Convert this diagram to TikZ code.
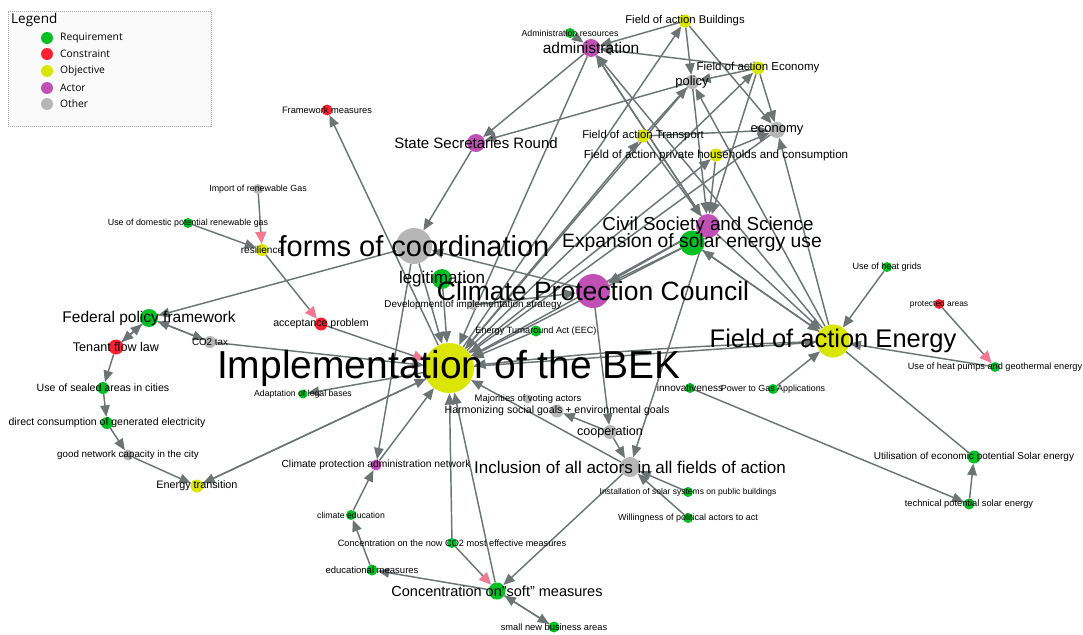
\documentclass[tikz,border=0pt]{standalone}
\usepackage{fontspec}
\setmainfont{Liberation Sans}
\newfontfamily\legendfont{Open Sans}
\usetikzlibrary{arrows.meta}
\definecolor{reqc}{RGB}{0,192,36}
\definecolor{conc}{RGB}{255,32,48}
\definecolor{objc}{RGB}{218,230,0}
\definecolor{actc}{RGB}{192,80,182}
\definecolor{othc}{RGB}{182,182,182}
\definecolor{edgec}{RGB}{108,116,116}
\definecolor{negc}{RGB}{244,120,148}
\definecolor{legborder}{RGB}{165,165,165}
\pgfdeclarelayer{bg}
\pgfdeclarelayer{edges}
\pgfsetlayers{bg,edges,main}
\newcommand\lblsize[1]{\fontsize{#1}{#1}\selectfont}
\tikzset{
  dot/.style={circle, inner sep=0pt, draw=none, minimum size=#1pt},
  req/.style={dot=#1, fill=reqc},
  con/.style={dot=#1, fill=conc},
  obj/.style={dot=#1, fill=objc},
  act/.style={dot=#1, fill=actc},
  oth/.style={dot=#1, fill=othc},
  lab/.style={inner sep=0pt, text=black, font={\lblsize{#1}}},
  link/.style={draw=edgec, line width=1.45pt, -{Triangle[length=11.5pt,width=9.5pt]}},
  neglink/.style={draw=edgec, line width=1.45pt, -{Triangle[length=12pt,width=11pt,color=negc]}},
  plainlink/.style={draw=edgec, line width=1.45pt},
  legbox/.style={draw=legborder, line width=0.6pt, dash pattern=on 1pt off 1pt, fill=white!98!black, inner sep=0pt},
  legtext/.style={inner sep=0pt, anchor=west, font={\legendfont\lblsize{#1}}},
}
\begin{document}
\begin{tikzpicture}[x=1pt,y=-1pt]
\useasboundingbox (0,0) rectangle (1083,634);
\begin{pgfonlayer}{bg}
  \fill[white] (0,0) rectangle (1083,634);
\end{pgfonlayer}

% ---------- legend ----------
\node[legbox, minimum width=203pt, minimum height=115pt, anchor=north west] (legend) at (8,11) {};
\node[legtext=13.5] (legtitle) at (11,20) {Legend};
\node[req=12] (lg1) at (47,38) {};  \node[legtext=10.3] (lgt1) at (60,38) {Requirement};
\node[con=12] (lg2) at (47,54) {};  \node[legtext=10.3] (lgt2) at (60,54) {Constraint};
\node[obj=12] (lg3) at (47,71) {};  \node[legtext=10.3] (lgt3) at (60,71) {Objective};
\node[act=12] (lg4) at (47,88) {};  \node[legtext=10.3] (lgt4) at (60,88) {Actor};
\node[oth=12] (lg5) at (47,104) {}; \node[legtext=10.3] (lgt5) at (60,104) {Other};

% ---------- nodes ----------
\node[obj=50] (impl) at (449,368) {};
\node[oth=36] (forms) at (414,246) {};
\node[act=34] (cpc) at (593,291) {};
\node[obj=33] (foaE) at (833,341) {};
\node[act=24] (civil) at (708,226) {};
\node[req=25] (expa) at (692,243) {};
\node[req=20] (legit) at (442,279) {};
\node[req=18] (fed) at (149,318) {};
\node[con=15] (tenant) at (116,347) {};
\node[oth=20] (incl) at (630,467) {};
\node[act=18] (admin) at (591,48) {};
\node[act=18] (ssr) at (476,143) {};
\node[req=17] (soft) at (497,591) {};
\node[oth=14] (coop) at (610,432) {};
\node[obj=13] (build) at (685,21) {};
\node[obj=13] (foaEc) at (758,68) {};
\node[oth=14] (policy) at (692,82) {};
\node[oth=16] (econ) at (777,130) {};
\node[obj=13] (trans) at (643,136) {};
\node[obj=13] (house) at (716,155) {};
\node[oth=12] (co2tax) at (210,342) {};
\node[obj=13] (etrans) at (197,486) {};
\node[oth=11] (netcap) at (128,455) {};
\node[req=12] (direct) at (107,423) {};
\node[req=12] (sealed) at (103,388) {};
\node[oth=10] (import) at (258,189) {};
\node[req=10] (domestic) at (188,223) {};
\node[obj=12] (resil) at (262,250) {};
\node[con=13] (accept) at (321,324) {};
\node[con=11] (frame) at (327,110) {};
\node[req=9] (adapt) at (303,394) {};
\node[act=11] (cpnet) at (376,465) {};
\node[req=10] (cedu) at (351,515) {};
\node[req=10] (co2now) at (452,543) {};
\node[req=11] (edu) at (372,570) {};
\node[req=11] (smallbiz) at (554,627) {};
\node[req=11] (eeg) at (536,331) {};
\node[oth=10] (devstrat) at (473,305) {};
\node[oth=9] (major) at (528,399) {};
\node[oth=13] (harmon) at (557,411) {};
\node[req=10] (install) at (688,492) {};
\node[req=10] (willing) at (688,518) {};
\node[req=10] (innov) at (690,388) {};
\node[req=10] (ptg) at (773,389) {};
\node[req=10] (heatgrid) at (887,267) {};
\node[con=10] (protect) at (939,304) {};
\node[req=10] (heatpump) at (995,367) {};
\node[req=13] (util) at (974,457) {};
\node[req=11] (technical) at (969,504) {};
\node[req=10] (adminres) at (570,33) {};

% ---------- connectors ----------
\begin{pgfonlayer}{edges}
  % left side
  \draw[neglink] (import) -- (resil);
  \draw[link] (domestic) -- (resil);
  \draw[neglink] (resil) -- (accept);
  \draw[neglink] (accept) -- (impl);
  \draw[link] (forms) -- (fed);
  \draw[link] (fed) -- (tenant);
  \draw[link] (tenant) -- (fed);
  \draw[link] (fed) -- (co2tax);
  \draw[link] (co2tax) -- (fed);
  \draw[link] (co2tax) -- (impl);
  \draw[link] (tenant) -- (sealed);
  \draw[link] (sealed) -- (direct);
  \draw[link] (direct) -- (netcap);
  \draw[link] (netcap) -- (etrans);
  \draw[link] (impl) -- (etrans);
  \draw[link] (etrans) -- (impl);
  \draw[link] (impl) -- (adapt);
  \draw[link] (impl) -- (frame);
  % lower part
  \draw[link] (cpnet) -- (impl);
  \draw[link] (forms) -- (cpnet);
  \draw[link] (cedu) -- (cpnet);
  \draw[link] (edu) -- (cedu);
  \draw[link] (soft) -- (edu);
  \draw[neglink] (co2now) -- (soft);
  \draw[link] (co2now) -- (impl);
  \draw[link] (soft) -- (impl);
  \draw[link] (incl) -- (soft);
  \draw[link] (soft) -- (smallbiz);
  \draw[link] (smallbiz) -- (soft);
  \draw[link] (install) -- (incl);
  \draw[link] (willing) -- (incl);
  \draw[link] (coop) -- (incl);
  \draw[link] (civil) -- (incl);
  \draw[link] (cpc) -- (coop);
  \draw[link] (coop) -- (harmon);
  \draw[link] (incl) -- (impl);
  % centre
  \draw[link] (devstrat) -- (cpc);
  \draw[link] (eeg) -- (impl);
  \draw[link] (impl) -- (foaE);
  \draw[link] (foaE) to[bend right=2] (impl);
  \draw[link] (forms) -- (impl);
  \draw[link] (legit) -- (impl);
  \draw[link] (ssr) -- (forms);
  \draw[link] (admin) -- (ssr);
  \draw[link] (policy) -- (ssr);
  \draw[link] (admin) -- (impl);
  \draw[link] (cpc) -- (forms);
  \draw[link] (civil) -- (cpc);
  \draw[link] (expa) -- (cpc);
  % right side
  \draw[link] (ptg) -- (foaE);
  \draw[link] (innov) -- (technical);
  \draw[link] (technical) -- (util);
  \draw[plainlink] (util) -- (foaE);
  \draw[link] (heatgrid) -- (foaE);
  \draw[neglink] (protect) -- (heatpump);
  \draw[link] (heatpump) -- (foaE);
  % upper cluster
  \draw[link] (adminres) -- (admin);
  \draw[link] (build) -- (admin);
  \draw[link] (foaEc) -- (admin);
  \draw[link] (build) -- (policy);
  \draw[link] (build) -- (econ);
  \draw[link] (foaEc) -- (policy);
  \draw[link] (foaEc) -- (econ);
  \draw[link] (trans) -- (policy);
  \draw[link] (trans) -- (econ);
  \draw[link] (house) -- (econ);
  \draw[link] (impl) -- (build);
  \draw[link] (impl) -- (foaEc);
  \draw[link] (impl) -- (trans);
  \draw[link] (impl) -- (house);
  \draw[link] (policy) -- (civil);
  \draw[link] (foaEc) -- (civil);
  \draw[link] (house) -- (civil);
  \draw[link] (admin) -- (civil);
  \draw[link] (trans) -- (civil);
  \draw[link] (civil) -- (admin);
  \draw[link] (foaE) -- (admin);
  \draw[link] (foaE) -- (policy);
  \draw[link] (foaE) -- (econ);
  \draw[link] (civil) -- (foaE);
  \draw[link] (expa) -- (foaE);
  \draw[link] (foaE) -- (expa);
  \draw[link] (policy) -- (impl);
  \draw[link] (econ) -- (impl);
  \draw[link] (civil) -- (impl);
  \draw[link] (expa) -- (impl);
\end{pgfonlayer}

% ---------- labels ----------
\node[lab=39] (implL) at (impl) {Implementation of the BEK};
\node[lab=29] (formsL) at (forms) {forms of coordination};
\node[lab=26.5] (cpcL) at (cpc) {Climate Protection Council};
\node[lab=25.5] (foaEL) at (foaE) {Field of action Energy};
\node[lab=18.8] (civilL) at (civil) {Civil Society and Science};
\node[lab=19.3] (expaL) at (expa) {Expansion of solar energy use};
\node[lab=17] (legitL) at (legit) {legitimation};
\node[lab=15.5] (fedL) at (fed) {Federal policy framework};
\node[lab=12.6] (tenantL) at (tenant) {Tenant flow law};
\node[lab=17] (inclL) at (incl) {Inclusion of all actors in all fields of action};
\node[lab=15.5] (adminL) at (admin) {administration};
\node[lab=15] (ssrL) at (ssr) {State Secretaries Round};
\node[lab=14.5] (softL) at (soft) {Concentration on\symbol{34}soft\symbol{34} measures};
\node[lab=12.6] (coopL) at (coop) {cooperation};
\node[lab=11.3] (buildL) at (build) {Field of action Buildings};
\node[lab=11.5] (foaEcL) at (foaEc) {Field of action Economy};
\node[lab=13] (policyL) at (policy) {policy};
\node[lab=13] (econL) at (econ) {economy};
\node[lab=11.3] (transL) at (trans) {Field of action Transport};
\node[lab=11.6] (houseL) at (house) {Field of action private households and consumption};
\node[lab=9.8] (co2taxL) at (co2tax) {CO2 tax};
\node[lab=10.8] (etransL) at (etrans) {Energy transition};
\node[lab=9.8] (netcapL) at (netcap) {good network capacity in the city};
\node[lab=10.5] (directL) at (direct) {direct consumption of generated electricity};
\node[lab=10.6] (sealedL) at (sealed) {Use of sealed areas in cities};
\node[lab=8.9] (importL) at (import) {Import of renewable Gas};
\node[lab=8.9] (domesticL) at (domestic) {Use of domestic potential renewable gas};
\node[lab=10] (resilL) at (resil) {resilience};
\node[lab=10.6] (acceptL) at (accept) {acceptance problem};
\node[lab=9.3] (frameL) at (frame) {Framework measures};
\node[lab=8.7] (adaptL) at (adapt) {Adaptation of legal bases};
\node[lab=10.3] (cpnetL) at (cpnet) {Climate protection administration network};
\node[lab=8.7] (ceduL) at (cedu) {climate education};
\node[lab=9.2] (co2nowL) at (co2now) {Concentration on the now CO2 most effective measures};
\node[lab=9.5] (eduL) at (edu) {educational measures};
\node[lab=9.3] (smallbizL) at (smallbiz) {small new business areas};
\node[lab=9.1] (eegL) at (eeg) {Energy Turnaround Act (EEC)};
\node[lab=9.9] (devstratL) at (devstrat) {Development of implementation strategy};
\node[lab=9.4] (majorL) at (major) {Majorities of voting actors};
\node[lab=10.6] (harmonL) at (harmon) {Harmonizing social goals + environmental goals};
\node[lab=8.5] (installL) at (install) {Installation of solar systems on public buildings};
\node[lab=9] (willingL) at (willing) {Willingness of political actors to act};
\node[lab=10] (innovL) at (innov) {innovativeness};
\node[lab=8.9] (ptgL) at (ptg) {Power to Gas Applications};
\node[lab=9.1] (heatgridL) at (heatgrid) {Use of heat grids};
\node[lab=8.4] (protectL) at (protect) {protected areas};
\node[lab=9.2] (heatpumpL) at (heatpump) {Use of heat pumps and geothermal energy};
\node[lab=10] (utilL) at (util) {Utilisation of economic potential Solar energy};
\node[lab=9.3] (technicalL) at (technical) {technical potential solar energy};
\node[lab=8.8] (adminresL) at (adminres) {Administration resources};
\end{tikzpicture}
\end{document}
